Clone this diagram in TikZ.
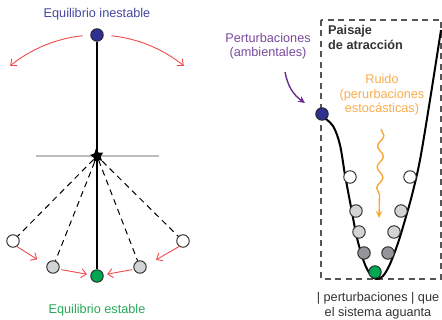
\documentclass[tikz,border=0pt]{standalone}
\usepackage{fontspec}
\setmainfont{Liberation Sans}
\usetikzlibrary{arrows.meta,shapes.geometric,decorations.pathmorphing,calc}

\definecolor{ballblue}{HTML}{2E3192}
\definecolor{ballgreen}{HTML}{00A651}
\definecolor{ballgray}{HTML}{D1D3D4}
\definecolor{balldark}{HTML}{939598}
\definecolor{bluetxt}{HTML}{4348A0}
\definecolor{greentxt}{HTML}{27A85A}
\definecolor{redc}{HTML}{F04A4A}
\definecolor{purpline}{HTML}{6A2C91}
\definecolor{purptxt}{HTML}{7A4A9C}
\definecolor{orangec}{HTML}{F7A838}
\definecolor{orangetxt}{HTML}{F9AD4C}
\definecolor{darktxt}{HTML}{333333}
\definecolor{groundc}{HTML}{BDBDBD}
\definecolor{boxc}{HTML}{555555}

\tikzset{
  ball/.style={circle, draw=black!85, line width=0.9pt, minimum size=12.5pt, inner sep=0pt},
  lbl/.style={font=\fontsize{12.7}{15}\selectfont, inner sep=0pt, anchor=base},
  redarr/.style={draw=redc, line width=0.9pt, -{Straight Barb[length=5pt,width=9pt]}},
  swing/.style={dash pattern=on 6pt off 4.5pt, line width=1pt},
  rod/.style={line width=1.4pt},
}

\begin{document}
\begin{tikzpicture}[x=1pt,y=-1pt]
\useasboundingbox (0,0) rectangle (442,320);

% ---------- pendulum ----------
\coordinate (gl) at (36,156);
\coordinate (gr) at (159,156);
\draw[groundc, line width=1.2pt] (gl) -- (gr);

\node[ball, fill=ballblue] (top) at (97,35) {};
\node[ball, fill=ballgreen] (rest) at (97,276) {};
\node[ball, fill=white] (w1) at (13,241) {};
\node[ball, fill=ballgray] (g1) at (53,267) {};
\node[ball, fill=ballgray] (g2) at (140,267) {};
\node[ball, fill=white] (w2) at (183,241) {};

\draw[rod] (top) -- (rest);
\node[star, star points=5, star point ratio=1.9, fill=black, inner sep=0pt,
      minimum size=14pt, rotate=10] (pivot) at (97,156) {};

\draw[swing] (pivot) -- (w1);
\draw[swing] (pivot) -- (g1);
\draw[swing] (pivot) -- (g2);
\draw[swing] (pivot) -- (w2);

% falling away from the unstable top position
\draw[redarr] plot[domain=96:129, samples=40] ({97+138*cos(\x)}, {173-138*sin(\x)});
\draw[redarr] plot[domain=84:51, samples=40] ({97+138*cos(\x)}, {173-138*sin(\x)});

% settling towards the stable position
\draw[redarr, shorten >=11pt] (w1.-55) -- (g1.165);
\draw[redarr, shorten <=2pt, shorten >=3.5pt] (g1.-20) -- (rest.170);
\draw[redarr, shorten <=2pt, shorten >=3.5pt] (g2.-160) -- (rest.10);
\draw[redarr, shorten >=11pt] (w2.-125) -- (g2.15);

\node[lbl, text=bluetxt] (t1) at (97,18) {Equilibrio inestable};
\node[lbl, text=greentxt] (t2) at (97,314) {Equilibrio estable};

% ---------- attraction landscape ----------
\draw[boxc, dash pattern=on 6pt off 4.5pt, line width=1.2pt] (321,20) rectangle (441,279);

\draw[line width=2pt] plot[smooth, tension=0.55] coordinates {
  (322,116) (333,126) (340,145) (345,175) (351,207) (357,238) (364,262)
  (370,274) (376,279) (383,276) (390,264) (398,243) (405,220) (412,195)
  (420,160) (430,100) (441,30)};

\node[ball, fill=ballblue] (b2) at (322,114) {};
\node[ball, fill=white] (lw1) at (350,177) {};
\node[ball, fill=white] (lw2) at (410,177) {};
\node[ball, fill=ballgray] (la1) at (356,211) {};
\node[ball, fill=ballgray] (la2) at (401,211) {};
\node[ball, fill=ballgray] (lb1) at (359,232) {};
\node[ball, fill=ballgray] (lb2) at (394,232) {};
\node[ball, fill=balldark] (lc1) at (364,253) {};
\node[ball, fill=balldark] (lc2) at (388,253) {};
\node[ball, fill=ballgreen] (lg) at (375,272) {};

\node[lbl, font=\fontsize{12.7}{15}\selectfont\bfseries, text=darktxt, anchor=base west] (k1) at (328,35) {Paisaje};
\node[lbl, font=\fontsize{12.7}{15}\selectfont\bfseries, text=darktxt, anchor=base west] (k2) at (328,50) {de atracción};

% environmental perturbation
\node[lbl, text=purptxt] (p1) at (268,43) {Perturbaciones};
\node[lbl, text=purptxt] (p2) at (268,57) {(ambientales)};
\coordinate (pa) at (285,72);
\draw[purpline, line width=1.4pt, -{Stealth[length=7pt,width=6.5pt]}]
  (pa) to[bend right=22] ($(b2)+(-17,-11)$);

% stochastic noise
\node[lbl, text=orangetxt] (n1) at (382,84) {Ruido};
\node[lbl, text=orangetxt] (n2) at (382,99) {(perurbaciones};
\node[lbl, text=orangetxt] (n3) at (382,113) {estocásticas)};
\coordinate (za) at (381,129);
\coordinate (zb) at (379,218);
\draw[orangec, line width=1.4pt, decorate,
      decoration={snake, amplitude=3pt, segment length=21pt, post length=22pt},
      -{Stealth[length=7pt,width=6.5pt]}] (za) -- (zb);

\node[lbl, text=darktxt] (c1) at (378,302) {| perturbaciones | que};
\node[lbl, text=darktxt] (c2) at (378,317) {el sistema aguanta};
\end{tikzpicture}
\end{document}
